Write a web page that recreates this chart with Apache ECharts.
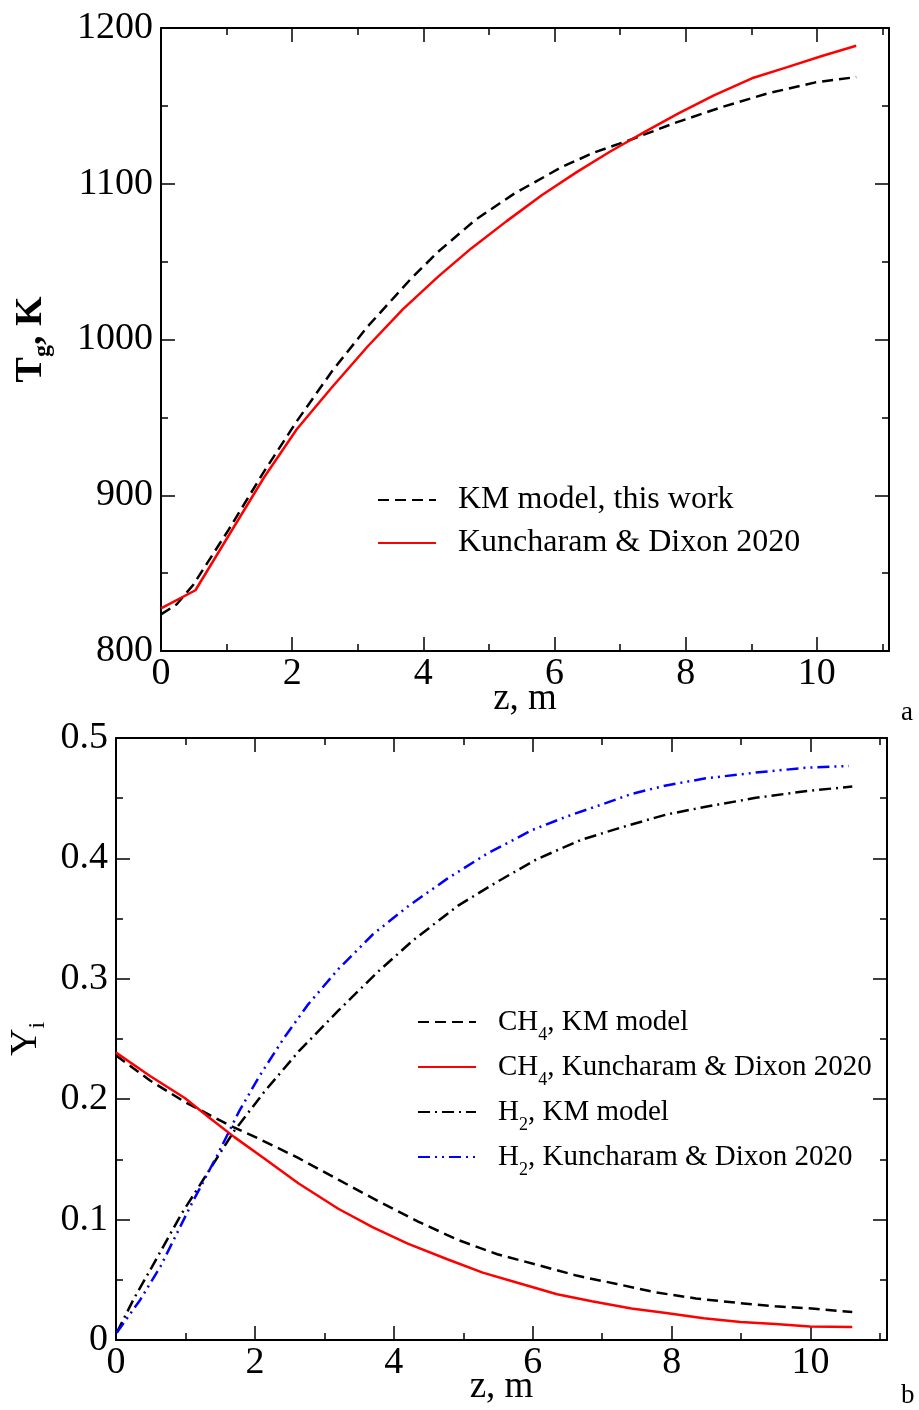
<!DOCTYPE html>
<html>
<head>
<meta charset="utf-8">
<script src="https://cdn.jsdelivr.net/npm/echarts@6/dist/echarts.min.js"></script>
<style>
  html, body { margin: 0; padding: 0; background: #fff; }
  #chart { width: 919px; height: 1410px; }
</style>
</head>
<body>
<div id="chart"></div>
<script>
// ---- Panel a: gas temperature along the reactor ----
const zTempKM = [0, 0.24, 0.49, 1.03, 1.57, 2.07, 2.61, 3.15, 3.80, 4.23, 4.80, 5.38, 6.10, 6.60, 7.17, 7.82, 8.54, 9.26, 9.98, 10.6];
const tempKM  = [823.5, 830, 842.4, 877.8, 915.2, 947.5, 979.8, 1008.3, 1038.5, 1056.5, 1077, 1093.5, 1110.5, 1120, 1128.4, 1138.8, 1149.1, 1158.1, 1165.1, 1168.5];
const zTempKD = [0, 0.525, 1.03, 1.57, 2.07, 2.61, 3.15, 3.69, 4.23, 4.73, 5.27, 5.81, 6.35, 6.85, 7.39, 7.89, 8.43, 9.01, 9.55, 10.09, 10.6];
const tempKD  = [827.4, 839, 874, 911.4, 942.4, 969.5, 995.5, 1019.5, 1040.5, 1058.5, 1076, 1092.8, 1107.8, 1120.7, 1133.6, 1145.2, 1156.8, 1167.7, 1174.9, 1182.2, 1188.6];

// ---- Panel b: mass fractions of CH4 and H2 ----
const zCH4KM = [0, 0.49, 0.99, 1.63, 2.06, 2.63, 3.20, 3.77, 4.35, 4.92, 5.49, 6.06, 6.63, 7.21, 7.78, 8.35, 8.92, 9.49, 10.06, 10.6];
const yCH4KM = [0.2364, 0.2155, 0.1977, 0.1784, 0.1671, 0.151, 0.1332, 0.1155, 0.0984, 0.0832, 0.0712, 0.0625, 0.0535, 0.0465, 0.0395, 0.0345, 0.031, 0.028, 0.026, 0.0232];
const zCH4KD = [0, 0.49, 0.99, 1.34, 1.70, 2.13, 2.63, 3.20, 3.70, 4.20, 4.77, 5.28, 5.78, 6.35, 6.85, 7.42, 7.92, 8.46, 8.99, 9.49, 9.99, 10.6];
const yCH4KD = [0.2387, 0.2193, 0.2010, 0.1848, 0.1687, 0.151, 0.130, 0.109, 0.0935, 0.080, 0.0671, 0.0560, 0.0475, 0.0380, 0.0322, 0.0262, 0.0225, 0.0180, 0.0150, 0.0132, 0.0113, 0.0109];
const zH2KM = [0.01, 0.25, 0.52, 0.95, 1.20, 1.70, 2.13, 2.63, 3.20, 3.77, 4.27, 4.92, 5.49, 6.06, 6.70, 7.28, 7.92, 8.49, 9.21, 9.92, 10.6];
const yH2KM = [0.006, 0.0335, 0.061, 0.1055, 0.128, 0.1735, 0.2058, 0.2397, 0.2735, 0.3058, 0.3316, 0.3606, 0.3806, 0.3994, 0.4155, 0.4258, 0.4364, 0.4429, 0.4503, 0.4558, 0.4597];
const zH2KD = [0.01, 0.35, 0.64, 1.07, 1.45, 1.77, 2.06, 2.42, 2.77, 3.20, 3.70, 4.20, 4.77, 5.35, 5.99, 6.49, 7.06, 7.42, 7.92, 8.49, 9.21, 9.92, 10.55];
const yH2KD = [0.006, 0.0335, 0.061, 0.111, 0.1526, 0.1897, 0.2187, 0.251, 0.279, 0.308, 0.337, 0.360, 0.3832, 0.4042, 0.4235, 0.4348, 0.4461, 0.4535, 0.4606, 0.4665, 0.4713, 0.4752, 0.4768];

const FONT = '"Liberation Serif", "DejaVu Serif", "Times New Roman", serif';
const BLACK = '#000';

const pairs = (xs, ys) => xs.map((x, i) => [x, ys[i]]);

// one side of the frame: a major-tick axis (optionally labelled) plus a minor-tick axis
function frameSide(gridIndex, position, min, max, major, minor, extra) {
  const base = {
    gridIndex, type: 'value', position, min, max,
    splitLine: { show: false },
    silent: true
  };
  const majorAxis = Object.assign({}, base, {
    interval: major,
    axisLine: { show: true, onZero: false, lineStyle: { color: BLACK, width: 2 } },
    axisTick: { show: true, inside: true, length: 14, lineStyle: { color: BLACK, width: 1.5 } },
    axisLabel: { show: false }
  }, extra || {});
  const minorAxis = Object.assign({}, base, {
    interval: minor,
    axisLine: { show: false, onZero: false },
    axisTick: { show: true, inside: true, length: 7, lineStyle: { color: BLACK, width: 1.5 } },
    axisLabel: { show: false }
  });
  return [majorAxis, minorAxis];
}

const tickLabel = (extra) => Object.assign({
  show: true, color: BLACK, fontFamily: FONT, fontSize: 38,
  formatter: (v) => String(+v.toFixed(6))
}, extra);

const subStyle = { fontFamily: FONT, fontSize: 18, lineHeight: 14, verticalAlign: 'bottom', color: BLACK };

const xAxes = [
  // panel a
  ...frameSide(0, 'bottom', 0, 11.1, 2, 1, {
    axisLabel: tickLabel({ margin: 4, showMaxLabel: false }),
    name: 'z, m', nameLocation: 'middle', nameGap: 30, nameMoveOverlap: false,
    nameTextStyle: { color: BLACK, fontFamily: FONT, fontSize: 37 }
  }),
  ...frameSide(0, 'top', 0, 11.1, 2, 1),
  // panel b
  ...frameSide(1, 'bottom', 0, 11.1, 2, 1, {
    axisLabel: tickLabel({ margin: 4, showMaxLabel: false }),
    name: 'z, m', nameLocation: 'middle', nameGap: 29, nameMoveOverlap: false,
    nameTextStyle: { color: BLACK, fontFamily: FONT, fontSize: 37 }
  }),
  ...frameSide(1, 'top', 0, 11.1, 2, 1)
];

const yAxes = [
  ...frameSide(0, 'left', 800, 1200, 100, 50, {
    axisLabel: tickLabel({ margin: 8 }),
    name: 'T{s|g}, K', nameLocation: 'middle', nameGap: 106, nameRotate: 90,
    nameTextStyle: {
      color: BLACK, fontFamily: FONT, fontSize: 38, fontWeight: 'bold', lineHeight: 48,
      rich: { s: { fontFamily: FONT, fontSize: 24, lineHeight: 20, fontWeight: 'bold', verticalAlign: 'bottom', color: BLACK } }
    }
  }),
  ...frameSide(0, 'right', 800, 1200, 100, 50),
  ...frameSide(1, 'left', 0, 0.5, 0.1, 0.05, {
    axisLabel: tickLabel({ margin: 8 }),
    name: 'Y{s|i}', nameLocation: 'middle', nameGap: 60, nameRotate: 90,
    nameTextStyle: {
      color: BLACK, fontFamily: FONT, fontSize: 38, lineHeight: 48,
      rich: { s: { fontFamily: FONT, fontSize: 24, lineHeight: 20, verticalAlign: 'bottom', color: BLACK } }
    }
  }),
  ...frameSide(1, 'right', 0, 0.5, 0.1, 0.05)
];

function lineSeries(name, data, xi, yi, color, type, width) {
  return {
    name, type: 'line', data, xAxisIndex: xi, yAxisIndex: yi,
    symbol: 'none', smooth: false, clip: true, animation: false,
    itemStyle: { color },
    lineStyle: { color, width, type }
  };
}

const DASH = [11, 6];
const DASH_DOT = [12, 5, 2, 5];
const DASH_DOT_DOT = [12, 5, 2, 5, 2, 5];

const series = [
  lineSeries('KM model, this work', pairs(zTempKM, tempKM), 0, 0, BLACK, DASH, 2.5),
  lineSeries('Kuncharam & Dixon 2020', pairs(zTempKD, tempKD), 0, 0, '#ff0000', 'solid', 2.5),
  lineSeries('CH4, KM model', pairs(zCH4KM, yCH4KM), 4, 4, BLACK, DASH, 2.5),
  lineSeries('CH4, Kuncharam & Dixon 2020', pairs(zCH4KD, yCH4KD), 4, 4, '#ff0000', 'solid', 2.5),
  lineSeries('H2, KM model', pairs(zH2KM, yH2KM), 4, 4, BLACK, DASH_DOT, 2.5),
  lineSeries('H2, Kuncharam & Dixon 2020', pairs(zH2KD, yH2KD), 4, 4, '#0000ff', DASH_DOT_DOT, 2.5)
];

// chemical formulas in legend entries get subscripted digits
const formulaLabel = (name) => '{g|}' + name.replace(/^(CH|H)(\d)/, '$1{s|$2}');

const legendCommon = {
  orient: 'vertical', itemWidth: 58, itemHeight: 30,
  padding: 0, selectedMode: false,
  itemStyle: { opacity: 0 }
};

const option = {
  backgroundColor: '#fff',
  animation: false,
  grid: [
    { left: 161, top: 28, width: 728, height: 623, outerBoundsMode: 'none', containLabel: false },
    { left: 116, top: 738, width: 771, height: 602, outerBoundsMode: 'none', containLabel: false }
  ],
  xAxis: xAxes,
  yAxis: yAxes,
  legend: [
    Object.assign({}, legendCommon, {
      left: 377, top: 482, itemGap: 7,
      data: ['KM model, this work', 'Kuncharam & Dixon 2020'],
      formatter: formulaLabel,
      textStyle: {
        color: BLACK, fontFamily: FONT, fontSize: 32, lineHeight: 36,
        rich: { g: { width: 17 }, s: subStyle }
      }
    }),
    Object.assign({}, legendCommon, {
      left: 417, top: 1000, itemGap: 1,
      data: ['CH4, KM model', 'CH4, Kuncharam & Dixon 2020', 'H2, KM model', 'H2, Kuncharam & Dixon 2020'],
      formatter: formulaLabel,
      textStyle: {
        color: BLACK, fontFamily: FONT, fontSize: 29, lineHeight: 44,
        rich: { g: { width: 17 }, s: subStyle }
      }
    })
  ],
  graphic: [
    { type: 'text', left: 901, top: 699, style: { text: 'a', fill: BLACK, font: '27px ' + FONT } },
    { type: 'text', left: 901, top: 1382, style: { text: 'b', fill: BLACK, font: '27px ' + FONT } }
  ],
  series
};

const chart = echarts.init(document.getElementById('chart'), null, { renderer: 'canvas' });
chart.setOption(option);
</script>
</body>
</html>
